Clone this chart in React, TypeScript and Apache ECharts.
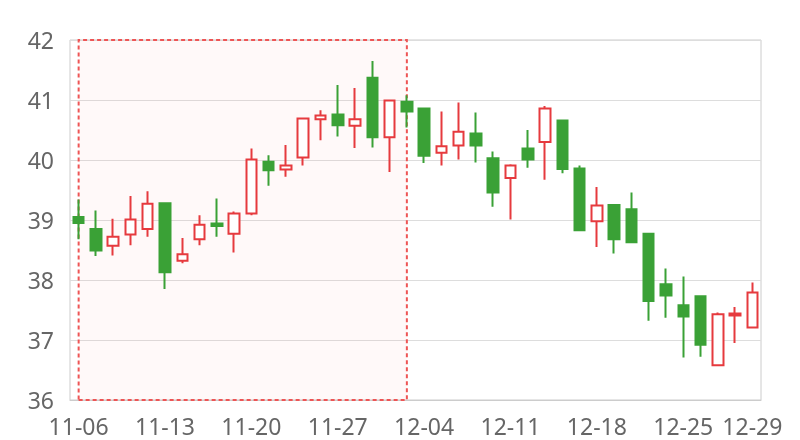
import React, { useEffect, useRef } from "react";
import * as echarts from "echarts";

const dates: string[] = [
  "11-06", "11-07", "11-08", "11-09", "11-10",
  "11-13", "11-14", "11-15", "11-16", "11-17",
  "11-20", "11-21", "11-22", "11-23", "11-24",
  "11-27", "11-28", "11-29", "11-30", "12-01",
  "12-04", "12-05", "12-06", "12-07", "12-08",
  "12-11", "12-12", "12-13", "12-14", "12-15",
  "12-18", "12-19", "12-20", "12-21", "12-22",
  "12-25", "12-26", "12-27", "12-28", "12-29",
];

const opens: number[] = [
  39.05, 38.85, 38.57, 38.76, 38.85, 39.28, 38.32, 38.68, 38.94, 38.77,
  39.11, 39.97, 39.84, 40.04, 40.68, 40.76, 40.57, 41.37, 40.38, 40.97,
  40.86, 40.12, 40.24, 40.44, 40.03, 39.70, 40.19, 40.30, 40.66, 39.86,
  38.98, 39.25, 39.18, 38.77, 37.93, 37.58, 37.73, 36.58, 37.41, 37.21,
];
const closes: number[] = [
  38.95, 38.49, 38.72, 39.01, 39.27, 38.13, 38.43, 38.92, 38.90, 39.11,
  40.01, 39.83, 39.91, 40.69, 40.74, 40.58, 40.68, 40.38, 40.99, 40.81,
  40.07, 40.23, 40.47, 40.24, 39.46, 39.91, 40.01, 40.86, 39.85, 38.83,
  39.24, 38.68, 38.63, 37.65, 37.74, 37.39, 36.92, 37.43, 37.44, 37.79,
];
const lows: number[] = [
  38.68, 38.40, 38.41, 38.58, 38.72, 37.85, 38.28, 38.58, 38.72, 38.46,
  39.08, 39.57, 39.72, 39.91, 40.33, 40.39, 40.20, 40.21, 39.80, 40.54,
  39.95, 39.91, 40.01, 39.96, 39.22, 39.01, 39.87, 39.67, 39.78, 38.82,
  38.55, 38.44, 38.62, 37.32, 37.37, 36.71, 36.72, 36.58, 36.95, 37.21,
];
const highs: number[] = [
  39.34, 39.16, 39.02, 39.40, 39.48, 39.28, 38.70, 39.08, 39.36, 39.14,
  40.19, 40.08, 40.25, 40.70, 40.83, 41.25, 41.20, 41.65, 41.00, 41.08,
  40.87, 40.81, 40.96, 40.79, 40.14, 39.93, 40.50, 40.90, 40.66, 39.91,
  39.55, 39.25, 39.46, 38.77, 38.19, 38.06, 37.74, 37.46, 37.55, 37.96,
];

const highlightStart = "11-06";
const highlightEnd = "12-01";

const UP = "#e63a3e";
const DOWN = "#3aa136";

export default function App() {
  const ref = useRef<HTMLDivElement>(null);
  useEffect(() => {
    if (!ref.current) return;
    const chart = echarts.init(ref.current, undefined, { renderer: "svg" });
    const data = dates.map((_, i) => [opens[i], closes[i], lows[i], highs[i]]);
    chart.setOption({
      animation: false,
      grid: {
        left: 70,
        right: 39,
        top: 40,
        bottom: 40,
        show: true,
        borderColor: "#ccc",
        borderWidth: 1,
      },
      xAxis: {
        type: "category",
        data: dates,
        boundaryGap: true,
        axisLine: { show: true, lineStyle: { color: "#ccc" } },
        axisTick: { show: false },
        splitLine: { show: false },
        axisLabel: {
          interval: (idx: number) => idx % 5 === 0 || idx === dates.length - 1,
          color: "#666",
          fontSize: 23,
          fontFamily: "Noto Sans",
          margin: 14,
        },
      },
      yAxis: {
        type: "value",
        min: 36,
        max: 42,
        interval: 1,
        axisLine: { show: false },
        axisTick: { show: false },
        splitLine: { show: true, lineStyle: { color: "#ddd" } },
        axisLabel: {
          color: "#666",
          fontSize: 23,
          fontFamily: "Noto Sans",
          margin: 16,
        },
      },
      series: [
        {
          type: "candlestick",
          data,
          barWidth: 11,
          itemStyle: {
            color: "#ffffff",
            color0: DOWN,
            borderColor: UP,
            borderColor0: DOWN,
            borderWidth: 2,
          },
          markArea: {
            silent: true,
            itemStyle: {
              color: "rgba(255,90,90,0.035)",
              borderColor: "#ee5555",
              borderWidth: 2,
              borderType: [4, 3],
            },
            data: [[{ xAxis: highlightStart }, { xAxis: highlightEnd }]],
          },
        },
      ],
    });
    return () => chart.dispose();
  }, []);
  return (
    <div
      ref={ref}
      style={{ position: "fixed", left: 0, top: 0, width: 800, height: 440 }}
    />
  );
}
